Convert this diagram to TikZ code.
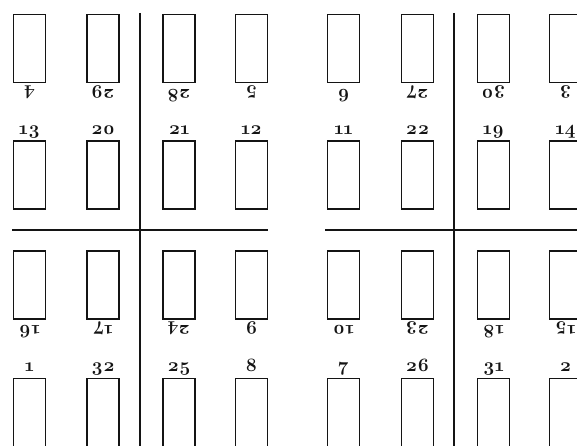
\documentclass[tikz,border=0pt]{standalone}
\usepackage{fontspec}
\setmainfont{Latin Modern Roman}[Numbers=OldStyle]
\usetikzlibrary{positioning,calc}
\definecolor{RuleClr}{rgb}{0.08,0.08,0.08}
\tikzset{
  page/.style={draw=RuleClr,line width=1.7pt,minimum width=32pt,minimum height=68pt,inner sep=0pt},
  numup/.style={font=\fontsize{19}{19}\selectfont\bfseries,text=RuleClr,inner sep=0pt,anchor=base},
  numdn/.style={numup,rotate=180},
  fold/.style={draw=RuleClr,line width=2.6pt}
}
\newcommand{\pg}[1]{#1}

\begin{document}
\begin{tikzpicture}[x=1pt,y=1pt]
\useasboundingbox (0,0) rectangle (577,445);
\clip (0,0) rectangle (577,445);

\coordinate (VA) at (140,432);
\coordinate (VB) at (140,-2);
\coordinate (VC) at (454,432);
\coordinate (VD) at (454,-2);
\coordinate (HA) at (12,215);
\coordinate (HB) at (268,215);
\coordinate (HC) at (325,215);
\coordinate (HD) at (579,215);

\draw[fold] (VA) -- (VB);
\draw[fold] (VC) -- (VD);
\draw[fold] (HA) -- (HB);
\draw[fold] (HC) -- (HD);

\node[page] (p4)  at (29.5,396.5) {};
\node[page] (p29) at (103,396.5) {};
\node[page] (p28) at (179,396.5) {};
\node[page] (p5)  at (251.5,396.5) {};
\node[page] (p6)  at (343.5,396.5) {};
\node[page] (p27) at (417.5,396.5) {};
\node[page] (p30) at (493.5,396.5) {};
\node[page] (p3)  at (565.5,396.5) {};

\node[page] (p13) at (29.5,270) {};
\node[page] (p20) at (103,270) {};
\node[page] (p21) at (179,270) {};
\node[page] (p12) at (251.5,270) {};
\node[page] (p11) at (343.5,270) {};
\node[page] (p22) at (417.5,270) {};
\node[page] (p19) at (493.5,270) {};
\node[page] (p14) at (565.5,270) {};

\node[page] (p16) at (29.5,160) {};
\node[page] (p17) at (103,160) {};
\node[page] (p24) at (179,160) {};
\node[page] (p9)  at (251.5,160) {};
\node[page] (p10) at (343.5,160) {};
\node[page] (p23) at (417.5,160) {};
\node[page] (p18) at (493.5,160) {};
\node[page] (p15) at (565.5,160) {};

\node[page] (p1)  at (29.5,32.5) {};
\node[page] (p32) at (103,32.5) {};
\node[page] (p25) at (179,32.5) {};
\node[page] (p8)  at (251.5,32.5) {};
\node[page] (p7)  at (343.5,32.5) {};
\node[page] (p26) at (417.5,32.5) {};
\node[page] (p31) at (493.5,32.5) {};
\node[page] (p2)  at (565.5,32.5) {};

\node[numdn] (n4)  at ([yshift=-6pt]p4.south)  {\pg{4}};
\node[numdn] (n29) at ([yshift=-6pt]p29.south) {\pg{29}};
\node[numdn] (n28) at ([yshift=-6pt]p28.south) {\pg{28}};
\node[numdn] (n5)  at ([yshift=-6pt]p5.south)  {\pg{5}};
\node[numdn] (n6)  at ([yshift=-6pt]p6.south)  {\pg{6}};
\node[numdn] (n27) at ([yshift=-6pt]p27.south) {\pg{27}};
\node[numdn] (n30) at ([yshift=-6pt]p30.south) {\pg{30}};
\node[numdn] (n3)  at ([yshift=-6pt]p3.south)  {\pg{3}};

\node[numup] (n13) at ([yshift=6pt]p13.north) {\pg{13}};
\node[numup] (n20) at ([yshift=6pt]p20.north) {\pg{20}};
\node[numup] (n21) at ([yshift=6pt]p21.north) {\pg{21}};
\node[numup] (n12) at ([yshift=6pt]p12.north) {\pg{12}};
\node[numup] (n11) at ([yshift=6pt]p11.north) {\pg{11}};
\node[numup] (n22) at ([yshift=6pt]p22.north) {\pg{22}};
\node[numup] (n19) at ([yshift=6pt]p19.north) {\pg{19}};
\node[numup] (n14) at ([yshift=6pt]p14.north) {\pg{14}};

\node[numdn] (n16) at ([yshift=-6pt]p16.south) {\pg{16}};
\node[numdn] (n17) at ([yshift=-6pt]p17.south) {\pg{17}};
\node[numdn] (n24) at ([yshift=-6pt]p24.south) {\pg{24}};
\node[numdn] (n9)  at ([yshift=-6pt]p9.south)  {\pg{9}};
\node[numdn] (n10) at ([yshift=-6pt]p10.south) {\pg{10}};
\node[numdn] (n23) at ([yshift=-6pt]p23.south) {\pg{23}};
\node[numdn] (n18) at ([yshift=-6pt]p18.south) {\pg{18}};
\node[numdn] (n15) at ([yshift=-6pt]p15.south) {\pg{15}};

\node[numup] (n1)  at ([yshift=6pt]p1.north)  {\pg{1}};
\node[numup] (n32) at ([yshift=6pt]p32.north) {\pg{32}};
\node[numup] (n25) at ([yshift=6pt]p25.north) {\pg{25}};
\node[numup] (n8)  at ([yshift=6pt]p8.north)  {\pg{8}};
\node[numup] (n7)  at ([yshift=6pt]p7.north)  {\pg{7}};
\node[numup] (n26) at ([yshift=6pt]p26.north) {\pg{26}};
\node[numup] (n31) at ([yshift=6pt]p31.north) {\pg{31}};
\node[numup] (n2)  at ([yshift=6pt]p2.north)  {\pg{2}};

\end{tikzpicture}
\end{document}
